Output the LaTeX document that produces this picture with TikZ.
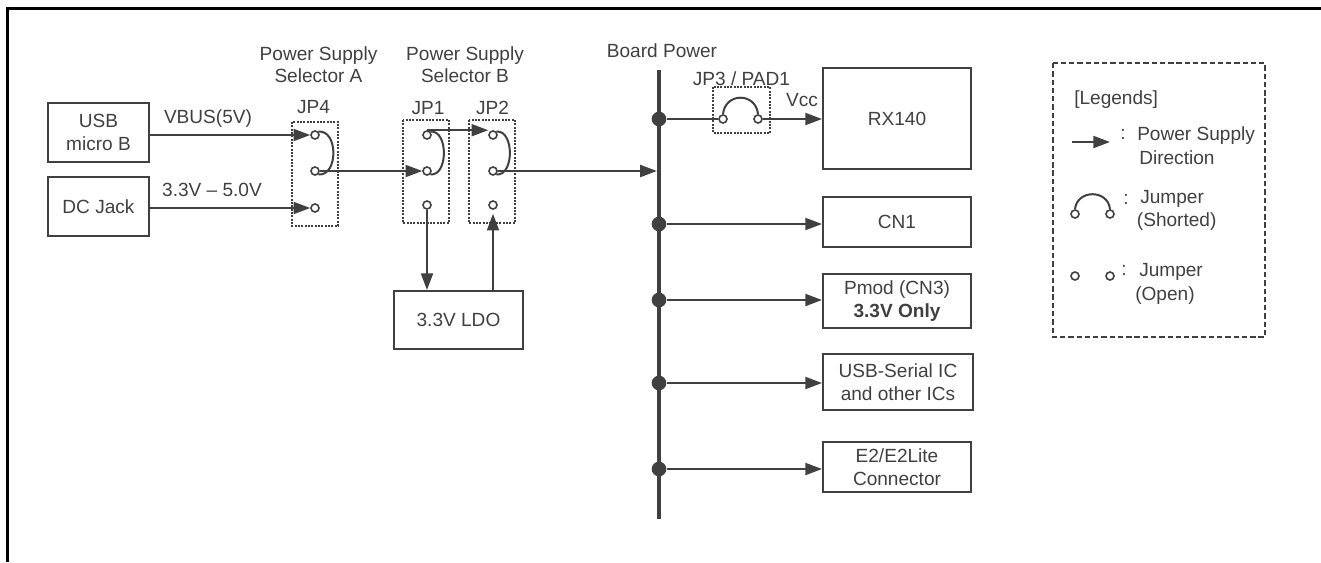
\documentclass[tikz,border=0pt]{standalone}
\usepackage{fontspec}
\setmainfont{Liberation Sans}
\usetikzlibrary{arrows.meta}
\definecolor{ink}{HTML}{404040}
\tikzset{
  every node/.style={text=ink},
  fs/.style={font=\fontsize{14.3}{#1}\selectfont},
  box/.style={draw=ink, line width=1.5pt, inner sep=0pt, align=center, fs=17pt},
  sz/.style 2 args={minimum width={#1*0.75pt}, minimum height={#2*0.75pt}},
  wire/.style={draw=ink, line width=1.5pt},
  arr/.style={wire, -{Triangle[length=12.5pt,width=9pt]}},
  pinc/.style={circle, draw=ink, fill=white, line width=1.2pt, inner sep=0pt, minimum size=6pt},
  bdot/.style={circle, fill=ink, inner sep=0pt, minimum size=11pt},
  lbl/.style={inner sep=0pt, anchor=base, fs=16pt, align=center},
  jbox/.style={draw=ink, line width=1.4pt, dash pattern=on 1.4pt off 1.1pt},
}
\begin{document}
\begin{tikzpicture}[x=0.75pt,y=-0.75pt]
\useasboundingbox (0,0) rectangle (1321,562);
\draw[black, line width=1.9pt] (7.5,562) -- (7.5,8.5) -- (1321,8.5);

% boxes
\node[box, sz={101}{59}] (usb) at (98.5,132.5) {USB\\micro B};
\node[box, sz={101}{59}] (dc) at (98.5,206.5) {DC Jack};
\node[box, sz={129}{58}] (ldo) at (458.5,320) {3.3V LDO};
\node[box, sz={148}{101}] (rx) at (897,118.5) {RX140};
\node[box, sz={148}{50}] (cn1) at (897,222) {CN1};
\node[box, sz={148}{54}] (pmod) at (897,301) {Pmod (CN3)\\\textbf{3.3V Only}};
\node[box, sz={150}{56}] (usbs) at (898,382) {USB-Serial IC\\and other ICs};
\node[box, sz={148}{50}] (e2) at (897,467) {E2/E2Lite\\Connector};

% jumper frames
\draw[jbox] (292,122) rectangle (338,226);
\draw[jbox] (403,120) rectangle (449,223);
\draw[jbox] (469,120) rectangle (515,223);
\draw[jbox] (713,87) rectangle (770,133);

% labels
\node[lbl] (selA) at (318.5,82) {Power Supply\\Selector A};
\node[lbl] (selB) at (465,82) {Power Supply\\Selector B};
\node[lbl] (jp4) at (313.5,113) {JP4};
\node[lbl] (jp1) at (428,114) {JP1};
\node[lbl] (jp2) at (492.5,114) {JP2};
\node[lbl] (bp) at (662,57) {Board Power};
\node[lbl] (jp3) at (741.5,85) {JP3 / PAD1};
\node[lbl] (vbus) at (208,123) {VBUS(5V)};
\node[lbl] (dcv) at (212,196.5) {3.3V -- 5.0V};
\node[lbl] (vcc) at (802,106.5) {Vcc};

% pins
\node[pinc] (a1) at (315,135) {};
\node[pinc] (a2) at (315,171) {};
\node[pinc] (a3) at (315,208) {};
\node[pinc] (b1) at (427,135) {};
\node[pinc] (b2) at (427,171) {};
\node[pinc] (b3) at (427,205) {};
\node[pinc] (c1) at (493,135) {};
\node[pinc] (c2) at (493,171) {};
\node[pinc] (c3) at (493,205) {};
\node[pinc] (j1) at (723,119) {};
\node[pinc] (j2) at (758,119) {};

% bus
\coordinate (bt) at (659,70);
\coordinate (bb) at (659,519);
\draw[ink, line width=3.4pt] (bt) -- (bb);
\node[bdot] (d1) at (659,119) {};
\node[bdot] (d2) at (659,224) {};
\node[bdot] (d3) at (659,300) {};
\node[bdot] (d4) at (659,383) {};
\node[bdot] (d5) at (659,469) {};

% wires
\draw[arr] (usb.east |- a1) -- (a1.west);
\draw[arr] (dc.east |- a3) -- (a3.west);
\draw[arr] (a2.east) -- (b2.west);
\draw[arr] (b1.north) -- (b1.north -| c1.west);
\draw[arr, shorten >=1.6pt] (c2.east) -- (c2 -| bt);
\draw[arr] (b3.south) -- (b3 |- ldo.north);
\draw[arr, shorten >=3pt] (c3 |- ldo.north) -- (c3.south);

\draw[wire] (a1.north east) .. controls +(20,-2) and +(20,2) .. (a2.south east);
\draw[wire] (b1.north east) .. controls +(18,-2) and +(18,2) .. (b2.south east);
\draw[wire] (c1.north east) .. controls +(18,-2) and +(18,2) .. (c2.south east);
\draw[wire] (j1.north) .. controls +(2,-22) and +(-2,-22) .. (j2.north);

\draw[wire] (d1) -- (j1.west);
\draw[arr] (j2.east) -- (j2 -| rx.west);
\draw[arr] (d2) -- (d2 -| cn1.west);
\draw[arr] (d3) -- (d3 -| pmod.west);
\draw[arr] (d4) -- (d4 -| usbs.west);
\draw[arr] (d5) -- (d5 -| e2.west);

% legend
\draw[ink, line width=1.5pt, dash pattern=on 4pt off 2.2pt] (1053,63) rectangle (1265,337);
\node[lbl, anchor=base west] (lg) at (1074,104) {[Legends]};
\coordinate (la1) at (1072,142);
\coordinate (la2) at (1110,142);
\draw[arr] (la1) -- (la2);
\node[lbl] (col1) at (1123,139) {:};
\node[lbl, anchor=base west, align=left, fs=18pt] (lt1) at (1137,164) {Power Supply\\\hspace*{1.5pt}Direction};

\node[pinc] (ls1) at (1075,214) {};
\node[pinc] (ls2) at (1110,214) {};
\draw[wire] (ls1.north) .. controls +(2,-20) and +(-2,-20) .. (ls2.north);
\node[lbl] (col2) at (1126,204) {:};
\node[lbl, anchor=base west, align=left, fs=17.2pt] (lt2) at (1136.7,226.7) {\hspace*{2.5pt}Jumper\\(Shorted)};

\node[pinc] (lo1) at (1075,276) {};
\node[pinc] (lo2) at (1110,276) {};
\node[lbl] (col3) at (1124,275) {:};
\node[lbl, anchor=base west, align=left, fs=17.5pt] (lt3) at (1135,300) {\hspace*{3pt}Jumper\\(Open)};
\end{tikzpicture}
\end{document}
